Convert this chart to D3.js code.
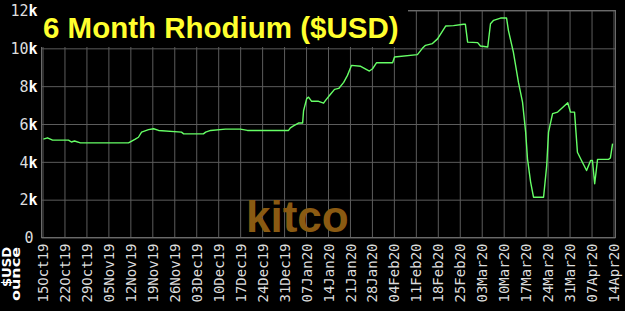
<!DOCTYPE html>
<html>
<head>
<meta charset="utf-8">
<script src="https://cdn.jsdelivr.net/npm/d3@7"></script>
<style>
  html, body { margin: 0; padding: 0; background: #000; }
  svg { display: block; }
</style>
</head>
<body>
<svg id="chart" width="625" height="311"></svg>
<script>
const titleText = "6 Month Rhodium ($USD)"
const unitLines = ["$USD", "ounce"]
const watermark = "kitco"

const xLabels = ["15Oct19", "22Oct19", "29Oct19", "05Nov19", "12Nov19", "19Nov19", "26Nov19",
  "03Dec19", "10Dec19", "17Dec19", "24Dec19", "31Dec19", "07Jan20", "14Jan20", "21Jan20",
  "28Jan20", "04Feb20", "11Feb20", "18Feb20", "25Feb20", "03Mar20", "10Mar20", "17Mar20",
  "24Mar20", "31Mar20", "07Apr20", "14Apr20"]
const yTicks = [0, 2000, 4000, 6000, 8000, 10000, 12000]

// price points (date + hour, $/oz)
const priceDates = [
  "2019-10-15 07", "2019-10-16 14", "2019-10-18 05", "2019-10-23 07", "2019-10-24 05",
  "2019-10-25 05", "2019-10-27 02", "2019-11-11 10", "2019-11-13 14", "2019-11-14 14",
  "2019-11-15 14", "2019-11-17 19", "2019-11-19 10", "2019-11-21 00", "2019-11-28 07",
  "2019-11-29 00", "2019-12-05 07", "2019-12-06 00", "2019-12-07 14", "2019-12-12 07",
  "2019-12-17 02", "2019-12-19 07", "2020-01-01 10", "2020-01-02 00", "2020-01-03 00",
  "2020-01-04 14", "2020-01-05 22", "2020-01-06 05", "2020-01-07 05", "2020-01-07 19",
  "2020-01-08 19", "2020-01-11 00", "2020-01-12 14", "2020-01-13 05", "2020-01-14 19",
  "2020-01-16 02", "2020-01-17 10", "2020-01-19 00", "2020-01-20 05", "2020-01-21 12",
  "2020-01-24 10", "2020-01-27 05", "2020-01-28 05", "2020-01-29 12", "2020-02-03 14",
  "2020-02-04 05", "2020-02-11 12", "2020-02-13 02", "2020-02-14 02", "2020-02-16 07",
  "2020-02-17 22", "2020-02-20 12", "2020-02-23 00", "2020-02-26 05", "2020-02-26 19",
  "2020-02-27 12", "2020-03-01 17", "2020-03-02 14", "2020-03-04 22", "2020-03-05 19",
  "2020-03-06 19", "2020-03-09 00", "2020-03-10 22", "2020-03-11 12", "2020-03-13 02",
  "2020-03-14 17", "2020-03-16 00", "2020-03-17 00", "2020-03-17 14", "2020-03-18 14",
  "2020-03-19 12", "2020-03-22 17", "2020-03-23 17", "2020-03-24 07", "2020-03-25 14",
  "2020-03-27 05", "2020-03-30 10", "2020-03-31 07", "2020-04-01 14", "2020-04-02 12",
  "2020-04-04 02", "2020-04-05 10", "2020-04-06 17", "2020-04-07 07", "2020-04-08 00",
  "2020-04-08 22", "2020-04-12 10", "2020-04-13 00", "2020-04-13 17"]
const priceValues = [
  5200, 5270, 5150, 5150, 5050,
  5100, 5000, 5000, 5200, 5300,
  5570, 5700, 5750, 5660, 5570,
  5480, 5480, 5570, 5660, 5730,
  5730, 5660, 5660, 5800, 5900,
  6050, 6050, 6700, 7340, 7420,
  7200, 7200, 7100, 7250, 7570,
  7830, 7880, 8200, 8570, 9100,
  9050, 8800, 8920, 9240, 9240,
  9540, 9670, 10000, 10160, 10250,
  10500, 11180, 11200, 11270, 11270,
  10330, 10300, 10120, 10070, 11300,
  11480, 11600, 11600, 10950, 9800,
  8200, 7160, 5570, 4160, 2930,
  2130, 2130, 3800, 5570, 6550,
  6630, 7120, 6630, 6630, 4510,
  3980, 3540, 4070, 4070, 2840,
  4130, 4130, 4200, 4960]

const parseTick = d3.timeParse("%d%b%y")
const parsePoint = d3.timeParse("%Y-%m-%d %H")
const tickDates = xLabels.map(parseTick)
const points = priceDates.map((d, i) => ({ date: parsePoint(d), value: priceValues[i] }))

const plotLeft = 41.5, plotRight = 615.5, plotTop = 10.5, plotBottom = 237.5
const gridColor = "#5c5c5c"

const svg = d3.select("#chart")

const x = d3.scaleTime()
  .domain([tickDates[0], tickDates[tickDates.length - 1]])
  .range([42.5, 613.5])
const y = d3.scaleLinear().domain([0, 12000]).range([plotBottom, plotTop])

// grid
svg.append("g")
  .attr("transform", `translate(0,${plotBottom})`)
  .call(d3.axisBottom(x).tickValues(tickDates).tickSize(-(plotBottom - plotTop)).tickFormat(""))
  .call(g => g.select(".domain").remove())
  .call(g => g.selectAll("line").attr("stroke", gridColor))

svg.append("g")
  .attr("transform", `translate(${plotLeft},0)`)
  .call(d3.axisLeft(y).tickValues(yTicks).tickSize(-(plotRight - plotLeft)).tickFormat(""))
  .call(g => g.select(".domain").remove())
  .call(g => g.selectAll("line").attr("stroke", gridColor))

svg.append("rect")
  .attr("x", plotLeft).attr("y", plotTop)
  .attr("width", plotRight - plotLeft).attr("height", plotBottom - plotTop)
  .attr("fill", "none").attr("stroke", "#6a6a6a")

// watermark
svg.append("text")
  .attr("x", 246).attr("y", 232)
  .attr("fill", "#8a5a12")
  .style("font-family", "'Liberation Sans', Arial, sans-serif")
  .style("font-weight", "bold")
  .style("font-size", "44px")
  .text(watermark)

// price line
const line = d3.line().x(d => x(d.date)).y(d => y(d.value))
svg.append("path")
  .datum(points)
  .attr("d", line)
  .attr("fill", "none")
  .attr("stroke", "#66ff66")
  .attr("stroke-width", 1.4)
  .attr("stroke-linejoin", "round")

// title box
svg.append("rect")
  .attr("x", 40).attr("y", 9)
  .attr("width", 368).attr("height", 38)
  .attr("fill", "#000")
svg.append("text")
  .attr("x", 43).attr("y", 38)
  .attr("fill", "#ffff2e")
  .style("font-family", "'Liberation Sans', Arial, sans-serif")
  .style("font-weight", "bold")
  .style("font-size", "29.5px")
  .text(titleText)

// y labels
svg.append("g")
  .attr("transform", `translate(${plotLeft},0)`)
  .call(d3.axisLeft(y).tickValues(yTicks).tickSize(0).tickPadding(4).tickFormat(""))
  .call(g => g.select(".domain").remove())
  .call(g => g.selectAll(".tick text").each(function (d) {
    const t = d3.select(this)
      .attr("dy", "0.35em")
      .attr("fill", "#dddddd")
      .style("font-family", "'DejaVu Sans Mono', monospace")
      .style("font-size", "15px")
    if (d === 0) {
      t.attr("dx", -4).text("0")
    } else {
      t.append("tspan").text(d / 1000)
      t.append("tspan").attr("fill", "#fff").style("font-weight", "bold").text("k")
    }
  }))

// x labels
svg.append("g")
  .attr("transform", `translate(0,${plotBottom})`)
  .call(d3.axisBottom(x).tickValues(tickDates).tickSize(0).tickFormat((d, i) => xLabels[i]))
  .call(g => g.select(".domain").remove())
  .call(g => g.selectAll(".tick text")
    .attr("transform", "rotate(-90)")
    .attr("text-anchor", "end")
    .attr("x", -6).attr("y", 0).attr("dy", "0.36em")
    .attr("fill", "#dddddd")
    .style("font-family", "'DejaVu Sans Mono', monospace")
    .style("font-size", "14px"))

// unit label
svg.append("g")
  .selectAll("text")
  .data(unitLines).enter()
  .append("text")
  .attr("transform", (d, i) => `translate(${11 + i * 9},247) rotate(-90)`)
  .attr("text-anchor", "end")
  .attr("fill", "#fff")
  .style("font-family", "'DejaVu Sans', sans-serif")
  .style("font-weight", "bold")
  .style("font-size", "12.5px")
  .attr("textLength", (d, i) => i == 0 ? 40 : 54)
  .attr("lengthAdjust", "spacingAndGlyphs")
  .text(d => d)
</script>
</body>
</html>
